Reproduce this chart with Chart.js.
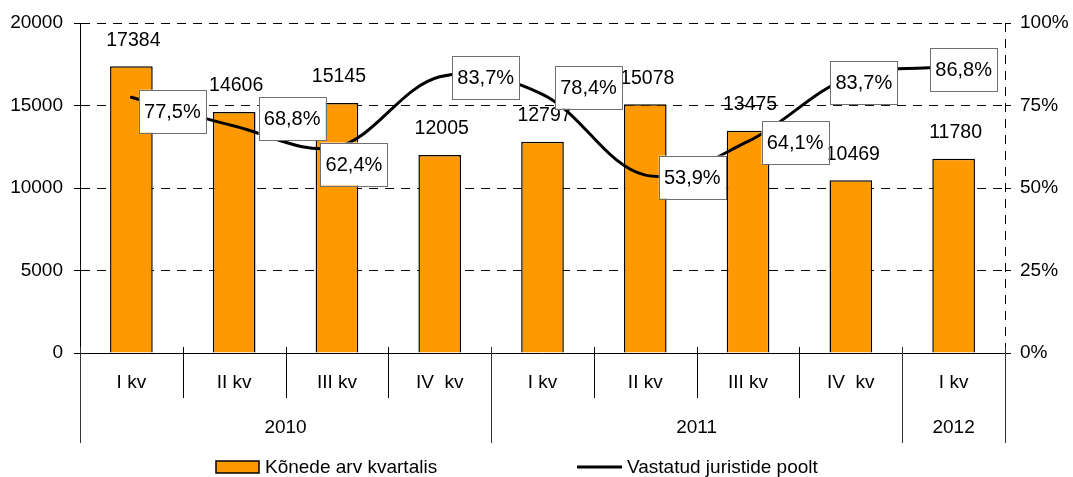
<!DOCTYPE html>
<html>
<head>
<meta charset="utf-8">
<script src="https://cdn.jsdelivr.net/npm/chart.js@4"></script>
<style>
  html, body { margin: 0; padding: 0; background: #fff; }
  canvas { display: block; }
</style>
</head>
<body>
<canvas id="chart" width="1073" height="477"></canvas>
<script>
// quarters and the years they belong to
const quarters = ['I kv', 'II kv', 'III kv', 'IV  kv', 'I kv', 'II kv', 'III kv', 'IV  kv', 'I kv'];
const years = ['2010', '2011', '2012'];
const yearSpans = [4, 4, 1];

// series
const calls = [17384, 14606, 15145, 12005, 12797, 15078, 13475, 10469, 11780];
const answeredShare = [0.775, 0.688, 0.624, 0.837, 0.784, 0.539, 0.641, 0.837, 0.868];

const seriesNames = ['Kõnede arv kvartalis', 'Vastatud juristide poolt'];
const leftTicks = [0, 5000, 10000, 15000, 20000];

// where the percent boxes sit, relative to their point
const boxNudge = [[41, 14], [58, -7], [17, 17], [46, 1], [46, -7], [47, 2], [47, 1], [13, 6], [10, 3]];

const FONT = '"Liberation Sans", Arial, sans-serif';
const ORANGE = '#ff9900';

const pctText = v => (v * 100).toFixed(1).replace('.', ',') + '%';

const extras = {
    id: 'extras',
    afterDatasetsDraw(chart) {
        const ctx = chart.ctx;
        const area = chart.chartArea;
        const x = chart.scales.x;
        ctx.save();
        ctx.font = '19.5px ' + FONT;
        ctx.fillStyle = '#000';
        ctx.textAlign = 'center';
        ctx.textBaseline = 'middle';

        // bar value labels
        chart.getDatasetMeta(0).data.forEach((bar, i) => {
            ctx.fillText(String(calls[i]), bar.x + 2, bar.y - 26);
        });

        // percent boxes
        ctx.font = '20px ' + FONT;
        chart.getDatasetMeta(1).data.forEach((pt, i) => {
            const cx = pt.x + boxNudge[i][0];
            const cy = pt.y + boxNudge[i][1];
            const w = 67, h = 43;
            ctx.fillStyle = '#fff';
            ctx.fillRect(cx - w / 2, cy - h / 2, w, h);
            ctx.strokeStyle = '#707070';
            ctx.lineWidth = 1;
            ctx.strokeRect(Math.round(cx - w / 2) + 0.5, Math.round(cy - h / 2) + 0.5, w, h);
            ctx.fillStyle = '#000';
            ctx.fillText(pctText(answeredShare[i]), cx, cy + 1);
        });

        // right dashed frame line
        ctx.strokeStyle = '#000';
        ctx.lineWidth = 1;
        ctx.setLineDash([9, 7]);
        ctx.beginPath();
        ctx.moveTo(Math.round(area.right) + 0.5, area.top);
        ctx.lineTo(Math.round(area.right) + 0.5, area.bottom);
        ctx.stroke();
        ctx.setLineDash([]);

        // category axis line
        const by = Math.round(area.bottom) + 0.5;
        ctx.beginPath();
        ctx.moveTo(area.left, by);
        ctx.lineTo(area.right, by);
        ctx.stroke();

        // separators between quarters and years
        const step = (area.right - area.left) / quarters.length;
        const yearEdges = [0];
        yearSpans.forEach(s => yearEdges.push(yearEdges[yearEdges.length - 1] + s));
        for (let i = 0; i <= quarters.length; i++) {
            const sx = Math.round(area.left + i * step) + 0.5;
            const long = yearEdges.includes(i);
            ctx.strokeStyle = long ? '#333' : '#000';
            ctx.beginPath();
            ctx.moveTo(sx, area.bottom - 6);
            ctx.lineTo(sx, long ? area.bottom + 90 : area.bottom + 45);
            ctx.stroke();
        }

        // quarter labels
        ctx.font = '19px ' + FONT;
        ctx.fillStyle = '#000';
        quarters.forEach((q, i) => {
            ctx.fillText(q, x.getPixelForValue(i), area.bottom + 30);
        });
        // year labels
        years.forEach((yr, j) => {
            const mid = area.left + (yearEdges[j] + yearEdges[j + 1]) / 2 * step;
            ctx.fillText(yr, mid, area.bottom + 75);
        });

        // legend
        const ly = 467;
        ctx.fillStyle = ORANGE;
        ctx.fillRect(216, ly - 6, 43, 12);
        ctx.strokeStyle = '#000';
        ctx.lineWidth = 1.5;
        ctx.strokeRect(216, ly - 6, 43, 12);
        ctx.fillStyle = '#000';
        ctx.textAlign = 'left';
        ctx.fillText(seriesNames[0], 265, ly + 1);
        ctx.lineWidth = 3;
        ctx.beginPath();
        ctx.moveTo(577, ly);
        ctx.lineTo(622, ly);
        ctx.stroke();
        ctx.fillText(seriesNames[1], 627, ly + 1);
        ctx.restore();
    }
};

const ctx = document.getElementById('chart').getContext('2d');
new Chart(ctx, {
    data: {
        labels: quarters,
        datasets: [{
            type: 'bar',
            label: seriesNames[0],
            data: calls,
            yAxisID: 'y',
            backgroundColor: ORANGE,
            borderColor: '#000',
            borderWidth: 1.5,
            categoryPercentage: 1,
            barPercentage: 0.415,
            order: 2
        }, {
            type: 'line',
            label: seriesNames[1],
            data: answeredShare,
            yAxisID: 'y1',
            borderColor: '#000',
            borderWidth: 3,
            borderCapStyle: 'round',
            tension: 0.35,
            pointRadius: 0,
            fill: false,
            order: 1
        }]
    },
    options: {
        responsive: false,
        animation: false,
        layout: { padding: { top: 23, left: 0, right: 0, bottom: 0 } },
        plugins: {
            legend: { display: false },
            tooltip: { enabled: false }
        },
        scales: {
            x: {
                ticks: { display: false },
                grid: { display: false },
                border: { display: false },
                afterFit: s => { s.height = 124; }
            },
            y: {
                position: 'left',
                min: 0,
                max: 20000,
                afterBuildTicks: s => { s.ticks = leftTicks.map(v => ({ value: v })); },
                ticks: {
                    color: '#000',
                    font: { family: FONT, size: 19 },
                    padding: 11,
                    callback: v => String(v)
                },
                grid: { color: '#000', lineWidth: 1, tickLength: 6 },
                border: { display: true, color: '#000', width: 1, dash: [9, 7] },
                afterFit: s => { s.width = 80; }
            },
            y1: {
                position: 'right',
                min: 0,
                max: 1,
                ticks: {
                    stepSize: 0.25,
                    color: '#000',
                    font: { family: FONT, size: 19 },
                    padding: 9,
                    callback: v => Math.round(v * 100) + '%'
                },
                grid: { drawOnChartArea: false, color: '#000', tickLength: 6 },
                border: { display: false },
                afterFit: s => { s.width = 68; }
            }
        }
    },
    plugins: [extras]
});
</script>
</body>
</html>
